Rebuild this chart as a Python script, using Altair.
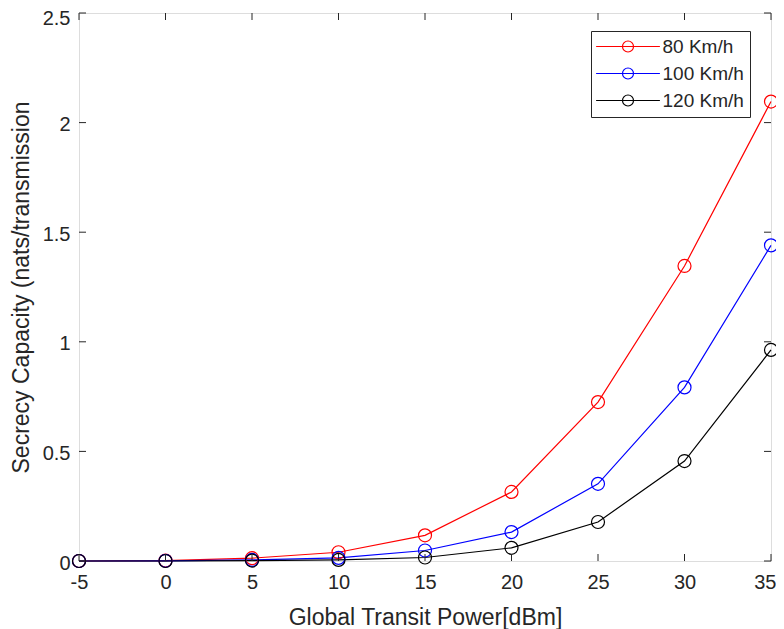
import altair as alt
import pandas as pd

power = [-5, 0, 5, 10, 15, 20, 25, 30, 35]
speed_80 = [0.0, 0.002, 0.013, 0.04, 0.117, 0.315, 0.725, 1.346, 2.096]
speed_100 = [0.0, 0.001, 0.005, 0.014, 0.048, 0.132, 0.352, 0.792, 1.44]
speed_120 = [0.0, 0.0, 0.002, 0.005, 0.016, 0.06, 0.178, 0.456, 0.963]
series = ["80 Km/h", "100 Km/h", "120 Km/h"]
colors = ["#FF0000", "#0000FF", "#000000"]
x_ticks = [-5, 0, 5, 10, 15, 20, 25, 30, 35]
y_ticks = [0, 0.5, 1, 1.5, 2, 2.5]

W, H = 692, 548
TXT = "#262626"
FONT = "Liberation Sans"

rows = []
for name, vals in zip(series, [speed_80, speed_100, speed_120]):
    for p, v in zip(power, vals):
        rows.append({"power": p, "cap": v, "series": name})
df = pd.DataFrame(rows)

xscale = alt.Scale(domain=[-5, 35], nice=False, zero=False)
yscale = alt.Scale(domain=[0, 2.5], nice=False)

last_x = "datum.value == 35"
last_y = "datum.value == 2.5"
x_enc = alt.X(
    "power:Q", scale=xscale,
    axis=alt.Axis(values=x_ticks, title="Global Transit Power[dBm]", grid=False,
                  domain=False, tickSize=0, labelPadding=11, titlePadding=14,
                  labelFlush=False, labelExpr="datum.value + ''",
                  labelAlign={"condition": {"test": last_x, "value": "right"}, "value": "center"},
                  labelOffset={"condition": {"test": last_x, "value": 5}, "value": 0},
                  labelFontSize=20, titleFontSize=23, labelColor=TXT, titleColor=TXT,
                  labelFont=FONT, titleFont=FONT, titleFontWeight="normal"),
)
y_enc = alt.Y(
    "cap:Q", scale=yscale,
    axis=alt.Axis(values=y_ticks, format="~g", title="Secrecy Capacity (nats/transmission",
                  grid=False, domain=False, tickSize=0, labelPadding=9, titlePadding=9,
                  labelOffset={"condition": {"test": last_y, "value": 5}, "value": 2},
                  labelFlush=False,
                  labelFontSize=20, titleFontSize=23, labelColor=TXT, titleColor=TXT,
                  labelFont=FONT, titleFont=FONT, titleFontWeight="normal"),
)
color_enc = alt.Color(
    "series:N",
    scale=alt.Scale(domain=series, range=colors),
    sort=series,
    legend=alt.Legend(
        title=None, orient="none", legendX=512, legendY=18,
        symbolType="M-5.8,0L5.8,0M1,0A1,1,0,1,1,-1,0A1,1,0,1,1,1,0",
        symbolSize=121, symbolStrokeWidth=1.2, symbolFillColor="transparent",
        symbolOffset=21.5, labelOffset=25, padding=6, rowPadding=7,
        labelFontSize=19, labelFont=FONT, labelColor=TXT,
        strokeColor=TXT, fillColor="white",
    ),
)

base = alt.Chart(df)
lines = base.mark_line(strokeWidth=1.2).encode(x=x_enc, y=y_enc, color=color_enc)
points = base.mark_point(shape="circle", filled=False, size=169, strokeWidth=1.2, opacity=1).encode(
    x=alt.X("power:Q", scale=xscale), y=alt.Y("cap:Q", scale=yscale), color=color_enc
)

xt = pd.DataFrame({"v": x_ticks})
yt = pd.DataFrame({"v": y_ticks})
tick_len = 7
bottom_ticks = alt.Chart(xt).mark_rule(color=TXT, strokeWidth=1).encode(
    x=alt.X("v:Q", scale=xscale), y=alt.value(H - tick_len), y2=alt.value(H))
top_ticks = alt.Chart(xt).mark_rule(color=TXT, strokeWidth=1).encode(
    x=alt.X("v:Q", scale=xscale), y=alt.value(0), y2=alt.value(tick_len))
left_ticks = alt.Chart(yt).mark_rule(color=TXT, strokeWidth=1).encode(
    y=alt.Y("v:Q", scale=yscale), x=alt.value(0), x2=alt.value(tick_len))
right_ticks = alt.Chart(yt).mark_rule(color=TXT, strokeWidth=1).encode(
    y=alt.Y("v:Q", scale=yscale), x=alt.value(W - tick_len), x2=alt.value(W))

chart = alt.layer(
    lines, points, bottom_ticks, top_ticks, left_ticks, right_ticks
).properties(
    width=W, height=H,
    autosize=alt.AutoSizeParams(type="none"),
    padding={"left": 71, "top": 5, "right": 5, "bottom": 70},
).configure_view(
    stroke=TXT, strokeWidth=1
).configure(background="white")

chart.save("out.html", embed_options={"renderer": "svg", "actions": False})
